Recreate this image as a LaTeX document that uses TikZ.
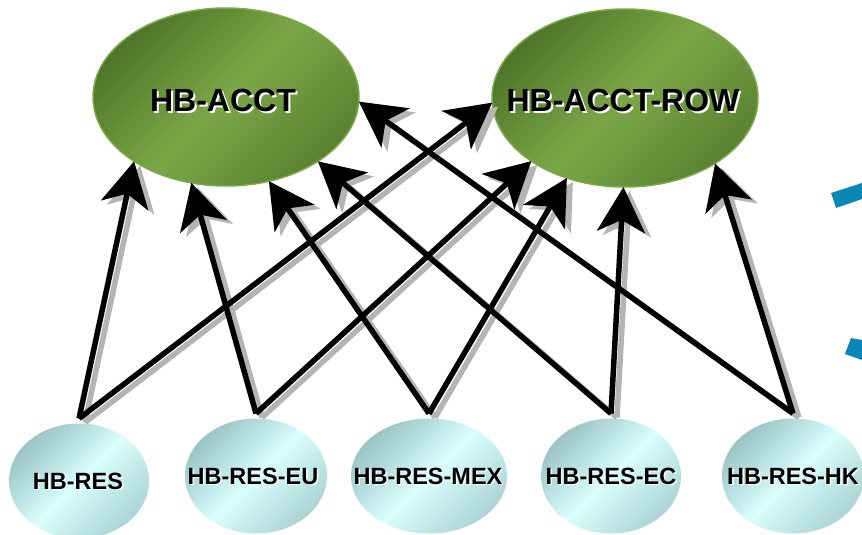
\documentclass[tikz,border=0pt]{standalone}
\usepackage{fontspec}
\setmainfont{Liberation Sans}
\usetikzlibrary{arrows.meta,shapes.geometric}

\definecolor{leafdark}{HTML}{4F7529}
\definecolor{leaflight}{HTML}{7BA747}
\definecolor{leafdarkb}{HTML}{5A8231}
\definecolor{leafrim}{HTML}{7DA84A}
\definecolor{icedark}{HTML}{9CC4C4}
\definecolor{icelight}{HTML}{D8FEFE}
\definecolor{icedarkb}{HTML}{ADD4D4}
\definecolor{shadowgray}{HTML}{B4B4B4}
\definecolor{accentblue}{HTML}{0A87B6}

\begin{document}
\begin{tikzpicture}[x=1pt,y=-1pt,
  greenell/.style={ellipse, inner sep=0pt, outer sep=0pt,
    minimum width=266pt, minimum height=178pt,
    draw=leafrim, line width=1.5pt,
    top color=leafdark, bottom color=leafdarkb, middle color=leaflight,
    shading angle=45},
  iceell/.style={ellipse, inner sep=0pt, outer sep=0pt,
    minimum height=115pt,
    top color=icedark, bottom color=icedarkb, middle color=icelight,
    shading angle=45},
  toplabel/.style={font=\fontsize{32}{32}\selectfont\bfseries, inner sep=0pt, text=black},
  toplabelsh/.style={toplabel, text=white},
  botlabel/.style={font=\fontsize{23.5}{23.5}\selectfont\bfseries, inner sep=0pt, text=black},
  botlabelsh/.style={botlabel, text=white},
  arrowline/.style={line width=5.5pt, line join=miter,
    -{Stealth[length=45pt,width=48pt,inset=12pt]}},
  shadowline/.style={arrowline, draw=shadowgray, fill=shadowgray},
  mainline/.style={arrowline, draw=black, fill=black}
]
\useasboundingbox (0,0) rectangle (862,535);

% account nodes
\node[greenell] (acct) at (226,97) {};
\node[greenell] (row) at (625,98) {};
\node[toplabelsh] (acct-sh) at (225,102) {HB-ACCT};
\node[toplabel] (acct-t) at (223,100) {HB-ACCT};
\node[toplabelsh] (row-sh) at (625,102) {HB-ACCT-ROW};
\node[toplabel] (row-t) at (623,100) {HB-ACCT-ROW};

% reservation nodes
\node[iceell, minimum width=140pt] (res) at (79,481) {};
\node[iceell, minimum width=142pt] (eu) at (256,476) {};
\node[iceell, minimum width=156pt] (mex) at (429,476) {};
\node[iceell, minimum width=140pt] (ec) at (611,476) {};
\node[iceell, minimum width=142pt] (hk) at (793,476) {};

\foreach \n/\txt/\px/\py in {res/HB-RES/78/481, eu/HB-RES-EU/253/476,
    mex/HB-RES-MEX/428/476, ec/HB-RES-EC/611/476, hk/HB-RES-HK/793/476} {
  \node[botlabelsh] (\n-sh) at (\px+1.5,\py+1.5) {\txt};
  \node[botlabel] (\n-t) at (\px,\py) {\txt};
}

% joints where each pair of arrows leaves a reservation node
\foreach \n in {res,eu,mex,ec,hk}
  \coordinate (\n-v) at ([yshift=5pt]\n.north);

% drop shadows of the arrows
\foreach \s/\t in {res-v/acct.215, res-v/row.182,
                   eu-v/acct.248, eu-v/row.214,
                   mex-v/acct.297, mex-v/row.234,
                   ec-v/acct.325, ec-v/row.269,
                   hk-v/acct.358, hk-v/row.324}
  \draw[shadowline] ([shift={(6,4)}]\s) -- ([shift={(6,4)}]\t);

% arrows
\foreach \s/\t in {res-v/acct.215, res-v/row.182,
                   eu-v/acct.248, eu-v/row.214,
                   mex-v/acct.297, mex-v/row.234,
                   ec-v/acct.325, ec-v/row.269,
                   hk-v/acct.358, hk-v/row.324}
  \draw[mainline] (\s) -- (\t);

% blue fragments at the right edge
\fill[accentblue] (831,193) -- (836,208) -- (862,199) -- (862,183) -- cycle;
\fill[accentblue] (851,338) -- (845,354) -- (862,360) -- (862,340) -- cycle;
\end{tikzpicture}
\end{document}
